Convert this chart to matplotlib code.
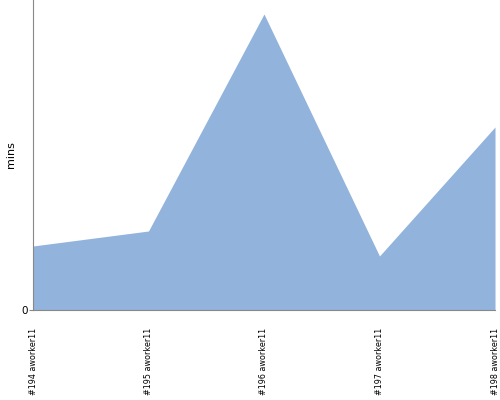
import matplotlib
matplotlib.use("Agg")
import matplotlib.pyplot as plt
import numpy as np

labels = ["#194 aworker11", "#195 aworker11", "#196 aworker11",
          "#197 aworker11", "#198 aworker11"]
mins = [64, 79, 296, 54, 183]

fig = plt.figure(figsize=(5, 4), dpi=100)
ax = fig.add_axes([0.066, 0.225, 0.924, 0.775])

x = np.arange(len(labels))
ax.fill_between(x, mins, 0, color="#92b3db", linewidth=0)
ax.set_xlim(0, len(labels) - 1)
ax.set_ylim(0, 310)

ax.set_xticks(x)
ax.set_xticklabels(labels, rotation=90, fontsize=5.8)
ax.tick_params(axis="x", length=0, pad=13)
ax.set_yticks([0])
ax.tick_params(axis="y", length=3, labelsize=7.5, color="#888888", pad=1)
ax.set_ylabel("mins", fontsize=8)
ax.yaxis.set_label_coords(-0.036, 0.5)

for s in ["top", "right"]:
    ax.spines[s].set_visible(False)
for s in ["left", "bottom"]:
    ax.spines[s].set_color("#888888")
    ax.spines[s].set_linewidth(0.8)

fig.savefig("out.png", dpi=100)
